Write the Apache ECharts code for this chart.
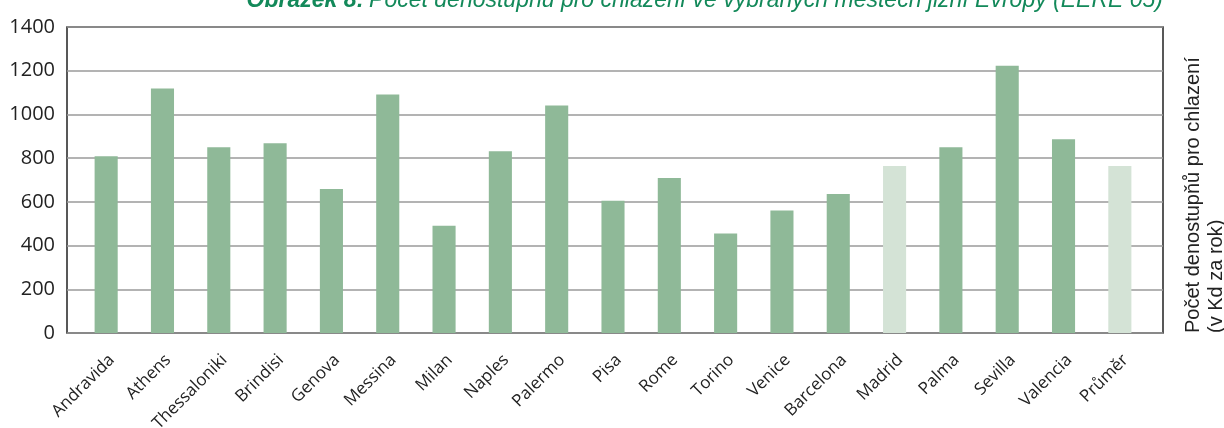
<!DOCTYPE html>
<html>
<head>
<meta charset="utf-8">
<script src="https://cdn.jsdelivr.net/npm/echarts@6/dist/echarts.min.js"></script>
<style>
    html, body { margin: 0; padding: 0; background: #fff; }
    #chart { width: 1224px; height: 428px; }
</style>
</head>
<body>
<div id="chart"></div>
<script>
    // data
    var cities = ['Andravida', 'Athens', 'Thessaloniki', 'Brindisi', 'Genova', 'Messina', 'Milan', 'Naples',
        'Palermo', 'Pisa', 'Rome', 'Torino', 'Venice', 'Barcelona', 'Madrid', 'Palma', 'Sevilla', 'Valencia', 'Průměr'];
    var degreeDays = [809, 1119, 850, 868, 659, 1091, 491, 832, 1041, 605, 709, 455, 560, 636, 764, 850, 1223, 886, 764];
    var lightCities = ['Madrid', 'Průměr'];
    var yTicks = [0, 200, 400, 600, 800, 1000, 1200, 1400];

    var titleBold = 'Obrázek 8:';
    var titleText = 'Počet denostupňů pro chlazení ve vybraných městech jižní Evropy (EERE 05)';
    var axisName = 'Počet denostupňů pro chlazení\n(v Kd za rok)';

    var green = '#8fb998';
    var lightGreen = '#d4e3d6';

    var myChart = echarts.init(document.getElementById('chart'));

    var barData = degreeDays.map(function (v, i) {
        return {
            value: v,
            itemStyle: { color: lightCities.indexOf(cities[i]) >= 0 ? lightGreen : green }
        };
    });

    var option = {
        animation: false,
        backgroundColor: '#fff',
        title: {
            text: '{b|' + titleBold + '} {n|' + titleText + '}',
            right: 61,
            top: -11,
            padding: 0,
            textStyle: {
                fontWeight: 'normal',
                rich: {
                    b: { fontFamily: 'Liberation Sans', fontSize: 23, fontStyle: 'italic', fontWeight: 'bold', color: '#13895a' },
                    n: { fontFamily: 'Liberation Sans', fontSize: 23, fontStyle: 'italic', fontWeight: 'normal', color: '#13895a' }
                }
            }
        },
        grid: [
            // frame with grid lines
            { left: 67, right: 61, top: 27, bottom: 95, outerBoundsMode: 'none', containLabel: false,
              show: true, borderColor: '#222', borderWidth: 1.5, backgroundColor: 'transparent' },
            // bars
            { left: 78, right: 76, top: 27, bottom: 95, outerBoundsMode: 'none', containLabel: false }
        ],
        xAxis: [
            { type: 'value', gridIndex: 0, show: false, min: 0, max: 1 },
            {
                type: 'category',
                gridIndex: 1,
                data: cities,
                axisLine: { show: false },
                axisTick: { show: false },
                axisLabel: {
                    interval: 0,
                    rotate: 45,
                    margin: 30,
                    padding: [0, -8, 0, 0],
                    fontFamily: 'Open Sans',
                    fontSize: 17,
                    color: '#222'
                }
            }
        ],
        yAxis: [
            {
                type: 'value',
                gridIndex: 0,
                min: yTicks[0],
                max: yTicks[yTicks.length - 1],
                interval: 200,
                axisLine: { show: false },
                axisTick: { show: false },
                axisLabel: {
                    margin: 12,
                    padding: [0, 0, 8, 0],
                    fontFamily: 'Open Sans',
                    fontSize: 20,
                    color: '#222',
                    formatter: function (v) { return String(v); }
                },
                splitLine: { lineStyle: { color: '#9a9a9a', width: 1.5 } }
            },
            { type: 'value', gridIndex: 1, min: 0, max: 1400, show: false },
            {
                type: 'value',
                gridIndex: 0,
                position: 'right',
                offset: 19,
                min: 0,
                max: 1400,
                name: axisName,
                nameLocation: 'start',
                nameGap: 0,
                nameRotate: 90,
                nameTextStyle: {
                    align: 'left',
                    verticalAlign: 'top',
                    fontFamily: 'Liberation Sans',
                    fontSize: 20,
                    lineHeight: 23,
                    color: '#222'
                },
                axisLine: { show: false },
                axisTick: { show: false },
                axisLabel: { show: false },
                splitLine: { show: false }
            }
        ],
        series: [{
            type: 'bar',
            xAxisIndex: 1,
            yAxisIndex: 1,
            barWidth: '41%',
            data: barData
        }]
    };
    myChart.setOption(option);
</script>
</body>
</html>
